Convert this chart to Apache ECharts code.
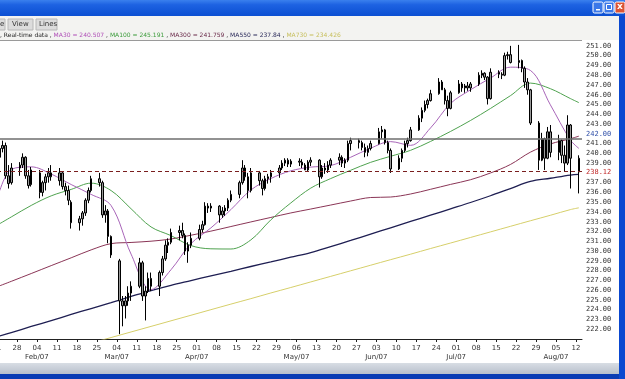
<!DOCTYPE html>
<html><head><meta charset="utf-8">
<script src="https://cdn.jsdelivr.net/npm/echarts/dist/echarts.min.js"></script>
<style>html,body{margin:0;padding:0;background:#fff;overflow:hidden}#c{width:625px;height:379px}</style>
</head><body><div id="c"></div><script>
// ---- data ----
const firstTradingDay = '2007-01-22';
const opens = [239.6,240.5,240.8,237.7,237.0, 238.5,238.8,239.6,237.7,236.8, 238.0,236.0,237.0,237.6,238.0, 237.2,238.0,236.6,236.2,235.0,
 232.9,233.3,233.9,235.2,236.2, 237.4,237.0,233.7,234.1,231.5, 229.0,224.9,224.4,224.9,225.7, 226.4,228.8,225.4,225.9,227.2,
 226.4,227.8,229.2,230.6,230.9, 231.9,232.1,231.6,230.0,230.6, 231.3,232.2,232.7,234.6,234.4, 234.6,233.7,234.1,234.4,235.2,
 235.8,237.0,238.5,237.6,236.2, 238.0,237.2,236.4,237.4,237.6, 238.0,238.5,239.0,239.3,238.9, 239.2,239.1,238.8,238.3,239.1,
 239.3,237.6,238.5,238.3,238.8, 239.3,239.6,239.0,239.3,241.0, 241.3,241.1,240.6,240.1,240.5, 241.0,242.2,242.4,241.1,240.3,
 238.4,239.5,240.3,241.0,241.3, 242.4,243.6,244.4,245.0,245.4, 246.1,247.3,246.5,245.4,244.6, 246.2,247.1,246.7,246.9,246.7,
 247.1,248.0,248.2,247.8,245.6, 248.3,248.1,248.0,250.0,250.1, 249.3,249.5,248.7,247.3,246.5, 243.1,239.3,241.5,239.5,242.2,
 240.1,241.3,239.8,239.0,242.9, 239.5];
const highs = [241.0,241.3,241.1,238.8,239.0, 239.1,240.0,239.7,238.3,238.6, 238.3,237.2,237.9,238.5,238.8, 238.5,238.1,237.0,236.7,235.2,
 233.6,234.1,235.4,236.5,237.7, 238.0,237.2,234.7,234.3,231.6, 229.2,225.4,225.4,226.4,226.9, 229.3,229.0,226.4,227.8,227.8,
 228.0,229.5,231.1,231.3,232.3, 232.6,232.9,231.8,230.9,231.9, 232.7,233.1,235.0,234.9,234.9, 234.7,234.5,234.7,235.4,236.2,
 237.2,239.3,238.8,238.0,238.5, 238.2,237.4,237.7,237.9,238.3, 238.8,239.3,239.5,239.5,239.4, 239.5,239.4,239.0,239.3,239.6,
 239.4,238.8,239.0,239.2,239.5, 240.0,239.8,239.5,241.3,241.6, 241.5,241.3,241.0,240.8,241.3, 242.6,242.8,242.5,241.3,240.5,
 239.8,240.5,241.3,241.6,242.7, 243.9,244.7,245.4,245.6,246.5, 247.7,247.5,246.7,245.9,246.4, 247.5,247.3,247.1,247.3,247.3,
 248.3,248.5,248.3,247.9,248.7, 248.5,248.3,250.3,250.4,251.0, 251.1,249.6,248.9,247.7,246.6, 243.3,242.1,241.6,242.7,242.9,
 241.9,241.4,240.8,243.9,243.0, 239.8];
const lows = [239.3,240.1,237.4,236.4,236.8, 237.7,238.5,237.4,236.4,236.6, 235.4,235.6,236.2,237.0,237.2, 236.7,236.3,235.7,234.7,232.3,
 232.1,232.6,233.6,234.9,236.0, 236.6,233.4,232.9,230.8,229.3, 221.5,222.3,223.1,224.4,224.9, 226.2,224.9,222.9,225.7,225.9,
 225.4,227.5,229.0,229.8,230.7, 231.1,231.3,229.6,228.8,230.3, 231.1,231.9,232.6,233.9,234.0, 232.9,233.4,233.6,234.1,235.0,
 235.4,236.8,237.2,235.4,236.0, 236.7,235.7,236.2,236.9,237.0, 237.5,238.3,238.7,238.6,238.6, 238.7,238.5,238.3,238.2,238.7,
 236.5,237.4,237.9,238.0,238.5, 238.8,238.6,238.5,239.1,240.3, 240.5,240.3,239.6,239.7,240.3, 240.9,241.5,240.9,240.0,238.0,
 238.3,239.1,240.1,240.6,241.2, 242.3,243.2,244.2,244.6,245.3, 246.0,246.5,245.0,243.8,244.5, 246.1,246.3,246.2,246.4,246.3,
 246.9,247.7,247.5,245.0,245.5, 247.7,247.6,247.9,249.6,249.2, 248.7,248.3,246.7,246.0,242.9, 238.3,239.2,238.3,239.4,239.6,
 239.3,239.0,238.1,238.8,236.4, 235.9];
const closes = [240.5,240.8,237.7,236.9,238.5, 238.8,239.6,237.7,236.7,238.3, 236.0,237.0,237.6,238.0,237.6, 238.0,236.6,236.2,235.2,232.9,
 233.3,233.9,235.2,236.2,237.4, 237.0,233.7,234.1,231.5,229.6, 224.9,224.4,224.9,225.7,226.4, 228.8,225.4,225.9,227.2,226.4,
 227.8,229.2,230.6,230.9,231.9, 232.1,231.6,230.0,230.6,231.3, 232.2,232.7,234.6,234.4,234.6, 233.7,234.1,234.4,235.2,235.8,
 237.0,238.5,237.6,236.2,238.0, 237.2,236.4,237.4,237.6,238.0, 238.5,239.0,239.3,238.9,239.2, 239.1,238.8,238.3,239.1,239.3,
 237.6,238.5,238.3,238.8,239.3, 239.6,239.0,239.3,241.0,241.3, 241.1,240.6,240.1,240.5,241.0, 242.2,242.4,241.1,240.3,238.4,
 239.5,240.3,241.0,241.3,242.4, 243.6,244.4,245.0,245.4,246.1, 247.3,246.5,245.4,244.6,246.2, 247.1,246.7,246.9,246.7,247.1,
 248.0,248.2,247.8,245.6,248.3, 248.1,248.0,250.0,250.1,249.3, 249.5,248.7,247.3,246.5,243.1, 239.3,241.5,239.5,242.2,240.1,
 241.3,239.8,239.0,242.9,239.5, 238.1];

const maDates = ['2007-01-22','2007-01-26','2007-02-02','2007-02-09','2007-02-16','2007-02-23','2007-03-02','2007-03-09','2007-03-16','2007-03-23',
 '2007-03-30','2007-04-06','2007-04-13','2007-04-20','2007-04-27','2007-05-04','2007-05-11','2007-05-18','2007-05-25','2007-06-01',
 '2007-06-08','2007-06-15','2007-06-22','2007-06-29','2007-07-06','2007-07-13','2007-07-20','2007-07-27','2007-08-03','2007-08-10','2007-08-13'];
const ma30  = [236.2,238.36,238.62,237.88,236.81,235.8,234.66,229.69,226.05,228.09,230.76,232.37,234.24,236.25,237.42,238.21,238.59,238.75,239.6,240.53,
 241.2,240.82,242.6,245.1,246.5,247.7,248.82,248.49,244.97,241.38,240.507];
const ma100 = [232.81,233.49,234.67,235.65,236.31,236.95,236.19,234.33,232.47,231.58,230.56,230.23,230.21,231.14,233.19,234.92,236.44,237.42,238.27,239.08,
 239.7,240.31,241.22,242.24,243.36,244.59,245.9,247.19,246.62,245.61,245.191];
const ma300 = [226.45,226.9,227.7,228.51,229.31,230.12,230.76,230.88,231.01,231.23,231.62,232.04,232.51,232.98,233.44,233.9,234.3,234.71,235.12,235.48,
 235.53,235.84,236.32,236.82,237.3,237.99,238.86,240.12,240.96,241.49,241.759];
const ma550 = [221.31,221.66,222.28,222.89,223.51,224.12,224.73,225.35,225.96,226.5,226.98,227.46,227.93,228.42,228.89,229.37,229.85,230.46,231.09,231.73,
 232.38,233.03,233.67,234.32,234.97,235.66,236.4,237.12,237.45,237.78,237.84];
const ma730 = [218.0,218.3,218.88,219.45,220.02,220.58,221.15,221.72,222.29,222.86,223.43,224.0,224.57,225.13,225.71,226.27,226.84,227.41,227.98,228.55,
 229.12,229.68,230.26,230.82,231.39,231.96,232.53,233.1,233.66,234.24,234.426];

const solidLevel = 241.45;
const lastPrice = 238.12;
const months = ['Jan','Feb','Mar','Apr','May','Jun','Jul','Aug','Sep','Oct','Nov','Dec'];
const axisOrigin = Date.UTC(2007,0,21); // a Sunday: weekly ticks fall on Sundays

// ---- helpers ----
const DAY = 86400000;
function dayIndex(s){ const [y,m,d] = s.split('-').map(Number); return (Date.UTC(y,m-1,d)-axisOrigin)/DAY; }
function tradingDayIndices(start, n){
  const out=[]; let t = dayIndex(start);
  while(out.length<n){ const w = new Date(axisOrigin + t*DAY).getUTCDay(); if(w>0 && w<6) out.push(t); t++; }
  return out;
}
const tIdx = tradingDayIndices(firstTradingDay, closes.length);
const candles = tIdx.map((t,i)=>[t, opens[i], closes[i], lows[i], highs[i]]);
const maX = maDates.map(dayIndex);
const mk = arr => arr.map((v,i)=>[maX[i], v]);

const chart = echarts.init(document.getElementById('c'), null, {renderer:'canvas'});
const lineSeries = (name, data, color, w) => ({
  name, type:'line', data: mk(data), showSymbol:false, smooth:0.35, clip:true, silent:true,
  lineStyle:{color, width:w}, z:3
});

const option = {
  animation:false,
  backgroundColor:'#ffffff',
  grid:{left:-3, right:43, top:40, bottom:40, show:false, containLabel:false, outerBoundsMode:'none'},
  xAxis:{
    type:'value', min:0, max:205.1, interval:7,
    axisLine:{show:true, lineStyle:{color:'#222', width:1}},
    axisTick:{show:true, length:3, lineStyle:{color:'#222'}},
    splitLine:{show:false},
    axisLabel:{
      color:'#333', fontSize:7, fontFamily:'DejaVu Sans', margin:5, lineHeight:9,
      hideOverlap:false,
      formatter:v=>{
        const d = new Date(axisOrigin + v*DAY);
        const dd = String(d.getUTCDate()).padStart(2,'0');
        return d.getUTCDate()<=7 ? dd+'\n'+months[d.getUTCMonth()]+'/07' : dd;
      }
    }
  },
  yAxis:{
    type:'value', position:'right', min:221, max:251.6, interval:1,
    axisLine:{show:true, lineStyle:{color:'#222'}},
    axisTick:{show:true, length:3, inside:false, lineStyle:{color:'#222'}},
    splitLine:{show:false},
    axisLabel:{
      fontSize:7, fontFamily:'DejaVu Sans Mono', color:'#333', margin:4,
      formatter:v=>{
        if(Math.abs(v-Math.round(v))>1e-6 || v===221 || v===238) return '';
        if(v===242) return '{b|242.00}';
        return v.toFixed(2);
      },
      rich:{b:{color:'#2f4fa8', fontSize:7, fontFamily:'DejaVu Sans Mono'}}
    }
  },
  series:[
    lineSeries('MA730', ma730, '#d6cf6a', 1),
    lineSeries('MA550', ma550, '#1e1e52', 1.3),
    lineSeries('MA300', ma300, '#8a3556', 1),
    lineSeries('MA100', ma100, '#4fa24f', 1),
    lineSeries('MA30',  ma30,  '#a865b8', 1),
    {
      type:'candlestick', data:candles, encode:{x:0, y:[1,2,3,4]},
      barWidth:2, z:4, silent:true,
      itemStyle:{color:'#9a9a9a', color0:'#9a9a9a', borderColor:'#000', borderColor0:'#000', borderWidth:1},
      markLine:{
        silent:true, symbol:['none','none'], animation:false,
        data:[
          {yAxis:solidLevel, lineStyle:{color:'#6e6e6e', width:1.5, type:'solid'}, label:{show:false}},
          {yAxis:lastPrice, lineStyle:{color:'#7a1e1e', width:1, type:[4,3]},
           label:{show:true, position:'end', formatter:'238.12', color:'#c02828', fontSize:7, fontFamily:'DejaVu Sans Mono', distance:4, backgroundColor:'#ffffff'}}
        ]
      }
    }
  ],
  graphic:[
    // title bar
    {type:'rect', shape:{x:0,y:0,width:625,height:16}, style:{fill:new echarts.graphic.LinearGradient(0,0,0,1,[{offset:0,color:'#3a80ee'},{offset:0.3,color:'#1d62e2'},{offset:1,color:'#0b4fd2'}])}, z:10},
    {type:'rect', shape:{x:593,y:2,width:10,height:11,r:1.5}, style:{fill:'#3b78e8', stroke:'#ffffff', lineWidth:1}, z:11},
    {type:'rect', shape:{x:596,y:9,width:4,height:1.5}, style:{fill:'#ffffff'}, z:12},
    {type:'rect', shape:{x:604,y:2,width:10,height:11,r:1.5}, style:{fill:'#3b78e8', stroke:'#ffffff', lineWidth:1}, z:11},
    {type:'rect', shape:{x:606.5,y:4.5,width:5,height:5}, style:{fill:'none', stroke:'#ffffff', lineWidth:1}, z:12},
    {type:'rect', shape:{x:615,y:2,width:10,height:11,r:1.5}, style:{fill:'#dc5434', stroke:'#ffffff', lineWidth:1}, z:11},
    {type:'text', x:617, y:2, style:{text:'x', fill:'#ffffff', font:'bold 9px DejaVu Sans'}, z:12},
    // toolbar / tabs area
    {type:'rect', shape:{x:0,y:16,width:625,height:24}, style:{fill:'#f3f3f1'}, z:10},
    {type:'rect', shape:{x:-4,y:19,width:9,height:11}, style:{fill:'#dcdcdc', stroke:'#b8b8b8'}, z:11},
    {type:'text', x:0, y:21, style:{text:'e', fill:'#333', font:'7px DejaVu Sans'}, z:12},
    {type:'rect', shape:{x:8,y:19,width:25,height:11}, style:{fill:'#dcdcdc', stroke:'#b8b8b8'}, z:11},
    {type:'text', x:12, y:21, style:{text:'View', fill:'#333', font:'7px DejaVu Sans'}, z:12},
    {type:'rect', shape:{x:36,y:19,width:21,height:11}, style:{fill:'#dcdcdc', stroke:'#b8b8b8'}, z:11},
    {type:'text', x:39, y:21, style:{text:'Lines', fill:'#333', font:'7px DejaVu Sans'}, z:12},
    {type:'text', x:0, y:32, z:12, style:{
      text:'{k|, Real-time data , }{a|MA30 = 240.507}{k| , }{b|MA100 = 245.191}{k| , }{c|MA300 = 241.759}{k| , }{d|MA550 = 237.84}{k| , }{e|MA730 = 234.426}',
      font:'6px DejaVu Sans',
      rich:{k:{fill:'#222',fontSize:6,fontFamily:'DejaVu Sans'},a:{fill:'#b050b8',fontSize:6,fontFamily:'DejaVu Sans'},b:{fill:'#3c9c3c',fontSize:6,fontFamily:'DejaVu Sans'},
            c:{fill:'#6a2a4a',fontSize:6,fontFamily:'DejaVu Sans'},d:{fill:'#2a2a5a',fontSize:6,fontFamily:'DejaVu Sans'},e:{fill:'#c8c060',fontSize:6,fontFamily:'DejaVu Sans'}}
    }},
    {type:'line', shape:{x1:0,y1:40.5,x2:582,y2:40.5}, style:{stroke:'#9a9a9a', lineWidth:1}, z:10},
    // right border and bottom bars
    {type:'rect', shape:{x:0,y:363,width:625,height:11}, style:{fill:new echarts.graphic.LinearGradient(0,0,0,1,[{offset:0,color:'#d8dde4'},{offset:1,color:'#b8c0cc'}])}, z:10},
    {type:'rect', shape:{x:0,y:374,width:625,height:5}, style:{fill:'#0a3cb4'}, z:10},
    {type:'rect', shape:{x:619,y:16,width:6,height:363}, style:{fill:'#0a48d0'}, z:10}
  ]
};
chart.setOption(option);
</script></body></html>
